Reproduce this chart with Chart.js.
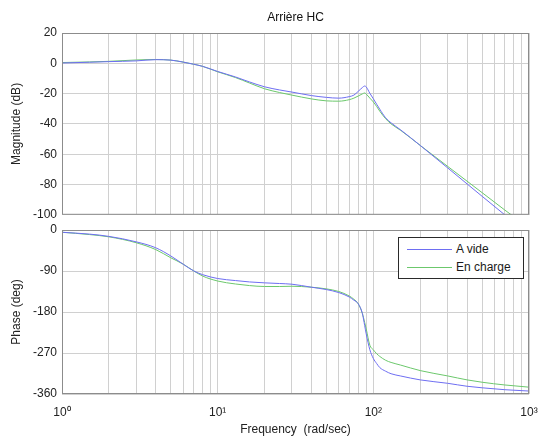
<!DOCTYPE html>
<html>
<head>
<meta charset="utf-8">
<script src="https://cdn.jsdelivr.net/npm/chart.js@4.4.0/dist/chart.umd.min.js"></script>
<style>
  html, body { margin: 0; padding: 0; background: #fff; }
  #wrap { position: relative; width: 538px; height: 439px; overflow: hidden; font-family: "Liberation Sans", Arial, sans-serif; }
  #magCanvas { position: absolute; left: 0; top: 0; }
  #phaseCanvas { position: absolute; left: 0; top: 215px; }
  #legend { position: absolute; left: 398px; top: 237px; width: 124px; height: 40px; border: 1px solid #2a2a2a; background: #fff; }
  #legend .row { position: absolute; left: 0; height: 14px; width: 124px; font-size: 12px; line-height: 14px; color: #1a1a1a; }
  #legend .swatch { position: absolute; left: 8px; top: 7px; width: 45px; height: 1px; }
  #legend .txt { position: absolute; left: 57px; top: 0; }
</style>
</head>
<body>
<div id="wrap">
  <canvas id="magCanvas" width="538" height="227"></canvas>
  <canvas id="phaseCanvas" width="538" height="224"></canvas>
  <div id="legend"></div>
</div>
<script>
// frequency points (rad/sec)
const freq = [1, 1.5, 2, 3, 4, 5, 6, 7, 8, 10, 13, 16, 20, 25, 30, 40, 50, 60, 70, 75, 80, 85, 88, 90, 95, 100, 105, 110, 120, 130, 150, 200, 300, 400, 500, 700, 1000];

// magnitude (dB)
const magVide = [0.2, 0.7, 1.1, 1.6, 2.4, 2.1, 0.8, -0.6, -2, -5.4, -9, -12.3, -15.5, -17.6, -19, -21.3, -22.5, -23, -22, -21, -18.5, -16, -15, -15.6, -19.8, -23.4, -27, -30.3, -36, -39.3, -44, -54.2, -69, -79.6, -87.8, -100.1, -112.9];
const magCharge = [0.5, 0.9, 1.3, 2.2, 2.5, 2.1, 0.8, -0.6, -2, -5.6, -9.4, -13, -16.8, -19.3, -21, -23.5, -24.8, -25, -24, -23, -21.6, -20.2, -19.6, -20.3, -23, -25.5, -28.5, -31.6, -36.6, -40, -44.3, -54.2, -68, -77.8, -85.4, -96.9, -108.6];

// phase (deg)
const phaseVide = [-5, -9, -14, -26, -39, -57, -75, -89.6, -98, -106.5, -111, -114, -116, -117.5, -119, -125.6, -130.8, -137.4, -147, -154, -162, -183, -210, -228, -263, -282, -293, -302, -310, -315.5, -320.5, -329, -336.5, -343, -346.4, -350.6, -353.5];
const phaseCharge = [-5, -10, -15, -28, -43, -61, -75, -89.6, -101, -112, -118.5, -122, -124, -124, -123.5, -125.6, -129.3, -135, -144.8, -152, -162, -183, -203, -217, -253, -263, -271.5, -277.5, -286, -290.7, -296.6, -308.6, -320.3, -329, -334.2, -340.2, -345];

const seriesNames = ['A vide', 'En charge'];
const seriesColors = ['#6e6ef2', '#6cc86c'];

// ticks
const magTicks = [20, 0, -20, -40, -60, -80, -100];
const phaseTicks = [0, -90, -180, -270, -360];
const decades = [1, 10, 100];
const decadeLabels = { 1: '10\u2070', 10: '10\u00b9', 100: '10\u00b2', 1000: '10\u00b3' };

const freqTicks = [];
decades.forEach(d => { for (let m = 1; m <= 9; m++) freqTicks.push(d * m); });
freqTicks.push(1000);

const FONT = '"Liberation Sans", Arial, sans-serif';
const TEXT = '#222';
const GRID = '#d0d0d0';

// box round the plot area, like the matlab axes
const frame = {
  id: 'frame',
  afterDatasetsDraw(chart) {
    const { ctx, chartArea: a } = chart;
    ctx.save();
    ctx.strokeStyle = '#8c8c8c';
    ctx.lineWidth = 1;
    ctx.strokeRect(a.left + 0.5, a.top + 0.5, a.right - a.left - 1, a.bottom - a.top - 1);
    ctx.restore();
  }
};

function lineSet(label, ys, color) {
  return {
    label: label,
    data: freq.map((f, i) => ({ x: f, y: ys[i] })),
    borderColor: color,
    backgroundColor: color,
    borderWidth: 1,
    pointRadius: 0,
    cubicInterpolationMode: 'monotone',
    fill: false
  };
}

function xScale(showLabels) {
  return {
    type: 'logarithmic',
    min: 1,
    max: 1000,
    afterBuildTicks: s => { s.ticks = freqTicks.map(v => ({ value: v })); },
    afterFit: s => {
      s.height = showLabels ? 45 : 0;
      s.paddingLeft = 0;
      s.paddingRight = 0;
    },
    grid: { color: GRID, drawTicks: false },
    border: { display: false },
    ticks: {
      display: showLabels,
      autoSkip: false,
      maxRotation: 0,
      padding: 11,
      color: TEXT,
      font: { family: FONT, size: 12 },
      callback: v => decadeLabels[v] || ''
    },
    title: {
      display: showLabels,
      text: 'Frequency  (rad/sec)',
      color: TEXT,
      font: { family: FONT, size: 12 },
      padding: { top: 0, bottom: 2 }
    }
  };
}

function yScale(ticks, title) {
  return {
    min: ticks[ticks.length - 1],
    max: ticks[0],
    afterBuildTicks: s => { s.ticks = ticks.map(v => ({ value: v })); },
    afterFit: s => { s.width = 62; },
    grid: { color: GRID, drawTicks: false },
    border: { display: false },
    ticks: { padding: 5, color: TEXT, font: { family: FONT, size: 12 } },
    title: {
      display: true,
      text: title,
      color: TEXT,
      font: { family: FONT, size: 12 },
      padding: { top: 9, bottom: 0 }
    }
  };
}

new Chart(document.getElementById('magCanvas').getContext('2d'), {
  type: 'line',
  data: {
    datasets: [
      lineSet(seriesNames[0], magVide, seriesColors[0]),
      lineSet(seriesNames[1], magCharge, seriesColors[1])
    ]
  },
  options: {
    responsive: false,
    animation: false,
    devicePixelRatio: 1,
    layout: { padding: { left: 0, right: 9, top: 0, bottom: 8 } },
    scales: {
      x: xScale(false),
      y: yScale(magTicks, 'Magnitude (dB)')
    },
    plugins: {
      legend: { display: false },
      tooltip: { enabled: false },
      title: {
        display: true,
        text: 'Arri\u00e8re HC',
        fullSize: false,
        color: '#111',
        font: { family: FONT, size: 12, weight: 'normal' },
        padding: { top: 10, bottom: 8.6 }
      }
    }
  },
  plugins: [frame]
});

new Chart(document.getElementById('phaseCanvas').getContext('2d'), {
  type: 'line',
  data: {
    datasets: [
      lineSet(seriesNames[0], phaseVide, seriesColors[0]),
      lineSet(seriesNames[1], phaseCharge, seriesColors[1])
    ]
  },
  options: {
    responsive: false,
    animation: false,
    devicePixelRatio: 1,
    layout: { padding: { left: 0, right: 9, top: 15, bottom: 0 } },
    scales: {
      x: xScale(true),
      y: yScale(phaseTicks, 'Phase (deg)')
    },
    plugins: {
      legend: { display: false },
      tooltip: { enabled: false }
    }
  },
  plugins: [frame]
});

// legend box in the upper right of the phase plot
const legend = document.getElementById('legend');
seriesNames.forEach((name, i) => {
  const row = document.createElement('div');
  row.className = 'row';
  row.style.top = (4 + i * 18) + 'px';
  const sw = document.createElement('span');
  sw.className = 'swatch';
  sw.style.background = seriesColors[i];
  const txt = document.createElement('span');
  txt.className = 'txt';
  txt.textContent = name;
  row.appendChild(sw);
  row.appendChild(txt);
  legend.appendChild(row);
});
</script>
</body>
</html>
